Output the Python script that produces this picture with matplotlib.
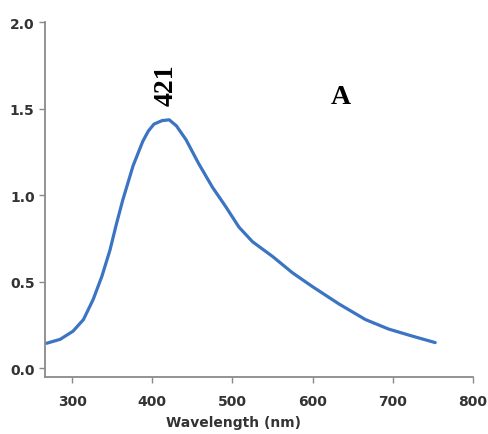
import matplotlib
matplotlib.use("Agg")
from matplotlib import pyplot as plt

# emission spectrum
wavelength = [268, 285, 301, 314, 326, 337, 347, 355, 363, 376, 388, 395,
              402, 412, 421, 430, 442, 458, 475, 492, 508, 525, 550, 575, 600,
              633, 666, 695, 724, 753]
intensity = [0.143, 0.166, 0.213, 0.28, 0.395, 0.53, 0.68, 0.83, 0.97, 1.17,
             1.31, 1.37, 1.41, 1.43, 1.435, 1.40, 1.32, 1.18, 1.045, 0.93, 0.815,
             0.73, 0.645, 0.55, 0.47, 0.37, 0.28, 0.225, 0.185, 0.147]
peak_label = "421"
panel_label = "A"
x_ticks = [300, 400, 500, 600, 700, 800]
y_ticks = [0.0, 0.5, 1.0, 1.5, 2.0]

fig = plt.figure(figsize=(4.89, 4.35), dpi=100)
ax = fig.add_axes([0.092, 0.131, 0.875, 0.816])

ax.plot(wavelength, intensity, color="#3b74c2", lw=2.3, solid_capstyle="round",
        solid_joinstyle="round")

ax.set_xlim(266, 800)
ax.set_ylim(-0.052, 2.0)
ax.set_xticks(x_ticks)
ax.set_yticks(y_ticks)
ax.set_yticklabels([f"{v:.1f}" for v in y_ticks])

for s in ["top", "right"]:
    ax.spines[s].set_visible(False)
for s in ["left", "bottom"]:
    ax.spines[s].set_color("#8a8a8a")
    ax.spines[s].set_linewidth(1.3)
ax.tick_params(colors="#8a8a8a", length=4, width=1, labelcolor="#333333",
               labelsize=10)
ax.tick_params(axis="x", pad=8)
for lab in ax.get_xticklabels() + ax.get_yticklabels():
    lab.set_fontweight("bold")

ax.set_xlabel("Wavelength (nm)", fontsize=10, fontweight="bold", color="#333333")
ax.xaxis.set_label_coords(0.44, -0.108)

ax.text(417, 1.64, peak_label, rotation=90, ha="center", va="center",
        family="Liberation Serif", fontweight="bold", fontsize=20)
ax.text(635, 1.57, panel_label, ha="center", va="center",
        family="Liberation Serif", fontweight="bold", fontsize=20)

fig.savefig("out.png", dpi=100, facecolor="white")
